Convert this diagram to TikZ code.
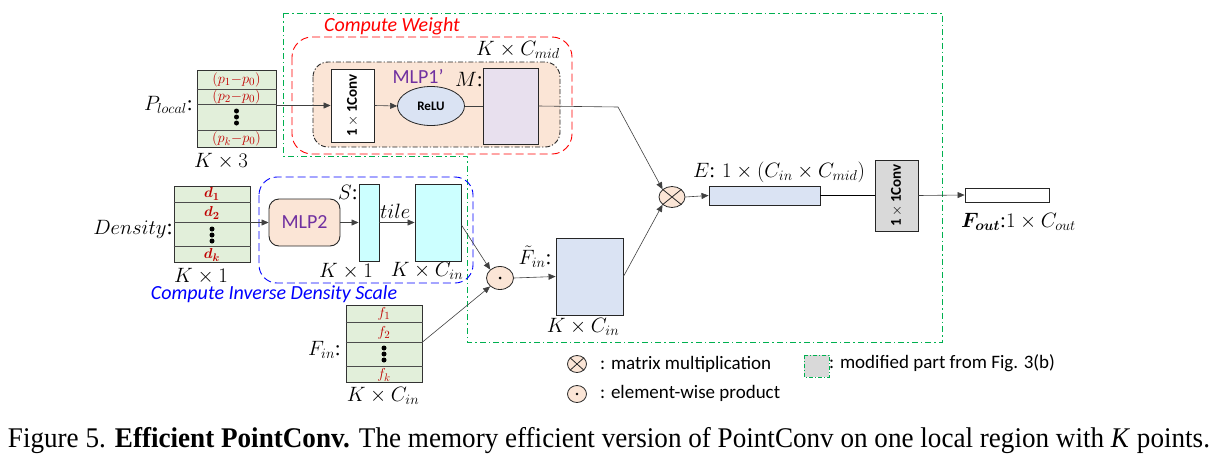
\documentclass[tikz,border=0pt]{standalone}
\usepackage{amsmath,amssymb}
\usepackage{fontspec}
\setmainfont{Liberation Serif}
\newfontfamily\capfont{Liberation Serif}
\newfontfamily\carl{Carlito}
\usetikzlibrary{arrows.meta,shapes.geometric}
\definecolor{tgreen}{HTML}{E2EFDA}
\definecolor{tpeach}{HTML}{FBE5D6}
\definecolor{tblue}{HTML}{DAE3F3}
\definecolor{tlav}{HTML}{E8E0EE}
\definecolor{tcyan}{HTML}{CCFFFF}
\definecolor{tgray}{HTML}{D9D9D9}
\definecolor{tpurple}{HTML}{7030A0}
\definecolor{tred}{HTML}{C00000}
\definecolor{bred}{HTML}{FF0000}
\definecolor{bblue}{HTML}{0000FF}
\definecolor{bgreen}{HTML}{00B050}
\tikzset{
  tbl/.style={draw=black!80, fill=tgreen, line width=1pt, inner sep=0pt},
  blk/.style={draw=black!85, line width=0.9pt, inner sep=0pt},
  arr/.style={draw=black!75, line width=0.6pt, -{Triangle[length=7pt,width=6pt]}},
  ln/.style={draw=black!75, line width=0.6pt},
  mth/.style={font=\fontsize{21}{24}\selectfont, inner sep=0pt},
  cell/.style={font=\fontsize{15}{17}\selectfont, text=tred, inner sep=0pt},
  dotc/.style={fill=black, circle, inner sep=0pt, minimum size=5pt},
  opn/.style={ellipse, draw=black!85, fill=tpeach, line width=0.8pt, inner sep=0pt},
  rotxt/.style={font=\carl\bfseries\fontsize{15}{17}\selectfont, rotate=90},
  gdash/.style={draw=bgreen, line width=0.8pt, dash pattern=on 6pt off 3pt on 1.5pt off 3pt},
}
\begin{document}
\begin{tikzpicture}[x=1pt,y=-1pt]
\useasboundingbox (0,0) rectangle (1218,461);

% ---- enclosing boxes
\draw[gdash] (283,13) -- (942,13) -- (942,342) -- (467,342) -- (467,156) -- (283,156) -- cycle;
\draw[bred, line width=0.9pt, dash pattern=on 8pt off 4pt, rounded corners=20pt] (292,37) rectangle (572,154);
\node[font=\carl\itshape\fontsize{20}{24}\selectfont, text=bred, inner sep=0pt] (cw) at (392,26) {Compute Weight};
\draw[black!85, fill=tpeach, line width=0.9pt, dash pattern=on 5pt off 2pt on 1.2pt off 2pt, rounded corners=15pt] (313,62) rectangle (560,147);
\draw[bblue, line width=0.9pt, dash pattern=on 8pt off 4pt, rounded corners=18pt] (259,177) rectangle (473,283);
\node[font=\carl\itshape\fontsize{20}{24}\selectfont, text=bblue, inner sep=0pt] (cids) at (274,294) {Compute Inverse Density Scale};

% ---- P_local table
\node[tbl, minimum width=79pt, minimum height=77pt] (pl) at (236.5,108.5) {};
\foreach \yy in {89,104,130} \draw[black!70, line width=0.7pt] (pl.west |- 0,\yy) -- (pl.east |- 0,\yy);
\node[cell] (p1) at (236.5,80) {$(p_1{-}p_0)$};
\node[cell] (p2) at (236.5,97) {$(p_2{-}p_0)$};
\node[cell] (pk) at (236.5,139) {$(p_k{-}p_0)$};
\foreach \yy in {111,117,123} \node[dotc] at (236.5,\yy) {};
\node[mth, anchor=east] (pllab) at (193,105) {$P_{local}$:};
\node[mth] (plk) at (221,161) {$K\times 3$};

% ---- MLP1'
\node[blk, fill=white, minimum width=43pt, minimum height=73pt] (conv) at (352.5,105.5) {};
\node[rotxt] at (conv.center) {1\,$\times$\,1Conv};
\node[opn, fill=tblue, minimum width=67pt, minimum height=39pt, font=\carl\bfseries\fontsize{13}{15}\selectfont] (relu) at (431,106) {ReLU};
\node[blk, fill=tlav, minimum width=55pt, minimum height=76pt] (m) at (510.5,106) {};
\node[font=\carl\fontsize{20}{24}\selectfont, text=tpurple, inner sep=0pt] (mlp1) at (418,76) {MLP1’};
\node[mth] (mlab) at (469,80) {$M$:};
\node[mth] (kcm) at (518,50) {$K\times C_{mid}$};

% ---- density
\node[tbl, minimum width=76pt, minimum height=76pt] (dn) at (212,224) {};
\foreach \yy in {202,222,246} \draw[black!70, line width=0.7pt] (dn.west |- 0,\yy) -- (dn.east |- 0,\yy);
\node[cell] (d1) at (212,194) {$\boldsymbol{d_1}$};
\node[cell] (d2) at (212,213) {$\boldsymbol{d_2}$};
\node[cell] (dk) at (212,255) {$\boldsymbol{d_k}$};
\foreach \yy in {229,235,241} \node[dotc] at (212,\yy) {};
\node[mth, anchor=east, font=\fontsize{22}{26}\selectfont] (dnlab) at (173,229) {$Density$:};
\node[mth] (dnk) at (201,276) {$K\times 1$};

\node[draw=black!85, fill=tpeach, line width=0.9pt, rounded corners=10pt, minimum width=71pt, minimum height=47pt, font=\carl\fontsize{20}{24}\selectfont, text=tpurple] (mlp2) at (304.5,222.5) {MLP2};
\node[blk, fill=tcyan, minimum width=20pt, minimum height=77pt] (s) at (369,222.5) {};
\node[blk, fill=tcyan, minimum width=46pt, minimum height=77pt] (tile) at (438,222.5) {};
\node[mth] (slab) at (348,193) {$S$:};
\node[mth] (sk) at (346,271) {$K\times 1$};
\node[mth] (tk) at (427,271) {$K\times C_{in}$};

% ---- F_in
\node[tbl, minimum width=76pt, minimum height=77pt] (fin) at (384,343.5) {};
\foreach \yy in {322,342,366} \draw[black!70, line width=0.7pt] (fin.west |- 0,\yy) -- (fin.east |- 0,\yy);
\node[cell] (f1) at (384,314) {$f_1$};
\node[cell] (f2) at (384,333) {$f_2$};
\node[cell] (fk) at (384,375) {$f_k$};
\foreach \yy in {348,354,360} \node[dotc] at (384,\yy) {};
\node[mth, anchor=east] (finlab) at (341,350) {$F_{in}$:};
\node[mth] (fink) at (383,396) {$K\times C_{in}$};

% ---- ops
\node[opn, minimum width=27pt, minimum height=23pt] (od) at (500,278) {};
\fill[black] (od.center) circle (1.5pt);
\node[blk, fill=tblue, minimum width=67pt, minimum height=77pt] (ft) at (589.5,276.5) {};
\node[mth] (ftlab) at (535,257) {$\tilde F_{in}$:};
\node[mth] (ftk) at (583,327) {$K\times C_{in}$};
\node[opn, minimum width=26pt, minimum height=21pt] (ot) at (672,197) {};
\draw[black!85, line width=0.8pt] (ot.north east) -- (ot.south west) (ot.north west) -- (ot.south east);
\node[blk, fill=tblue, minimum width=111pt, minimum height=19pt] (e) at (764.5,195.5) {};
\node[mth] (elab) at (779,172) {$E$: $1\times(C_{in}\times C_{mid})$};
\node[blk, fill=tgray, minimum width=43pt, minimum height=71pt] (gc) at (896.5,195.5) {};
\node[rotxt] at (gc.center) {1\,$\times$\,1Conv};
\node[blk, fill=white, minimum width=84pt, minimum height=14pt] (fo) at (1007,195) {};
\node[mth, anchor=west] (folab) at (961,222) {$\boldsymbol{F_{out}}$:$1\times C_{out}$};

% ---- connectors
\draw[arr] (pl.east |- conv.west) -- (conv.west);
\draw[arr] (conv.east) -- (relu.west);
\draw[ln] (relu.east) -- (m.west);
\coordinate (bend) at (618,107);
\draw[arr] (m.east) -- (bend) -- (ot.north west);
\draw[arr] (dn.east |- mlp2.west) -- (mlp2.west);
\draw[arr] (mlp2.east) -- (s.west);
\draw[arr] (s.east) -- node[mth, above=4pt, pos=0.45] {$tile$} (tile.west);
\draw[arr] (tile.east |- 0,225) -- (od.north west);
\draw[arr] (fin.east |- 0,342) -- (od.south west);
\draw[arr] (od.east) -- (ft.west);
\draw[arr] (ft.east) -- (ot.south west);
\draw[arr] (ot.east) -- (e.west);
\draw[ln, black] (e.east) -- (gc.west);
\draw[arr] (gc.east) -- (fo.west);

% ---- legend
\node[opn, minimum width=19pt, minimum height=17pt] (lot) at (577,364) {};
\draw[black!85, line width=0.8pt] (lot.north east) -- (lot.south west) (lot.north west) -- (lot.south east);
\node[anchor=west, font=\carl\fontsize{19}{22}\selectfont, inner sep=0pt] (lott) at (600,364) {: matrix multiplication};
\node[opn, minimum width=19pt, minimum height=17pt] (lod) at (577,394) {};
\fill[black] (lod.center) circle (1.3pt);
\node[anchor=west, font=\carl\fontsize{19}{22}\selectfont, inner sep=0pt] (lodt) at (600,393) {: element-wise product};
\draw[gdash, fill=tgray, dash pattern=on 4pt off 2pt on 1pt off 2pt] (804,355) rectangle (829,377);
\node[anchor=west, font=\carl\fontsize{19}{22}\selectfont, inner sep=0pt] (lmt) at (829,363) {: modified part from Fig. 3(b)};

% ---- caption
\node[inner sep=0pt, anchor=base] (cap) at (609,447) {\resizebox{1202pt}{\height}{\capfont\fontsize{28.5}{32}\selectfont Figure 5. \textbf{Efficient PointConv.} The memory efficient version of PointConv on one local region with \textit{K} points.}};
\end{tikzpicture}
\end{document}
